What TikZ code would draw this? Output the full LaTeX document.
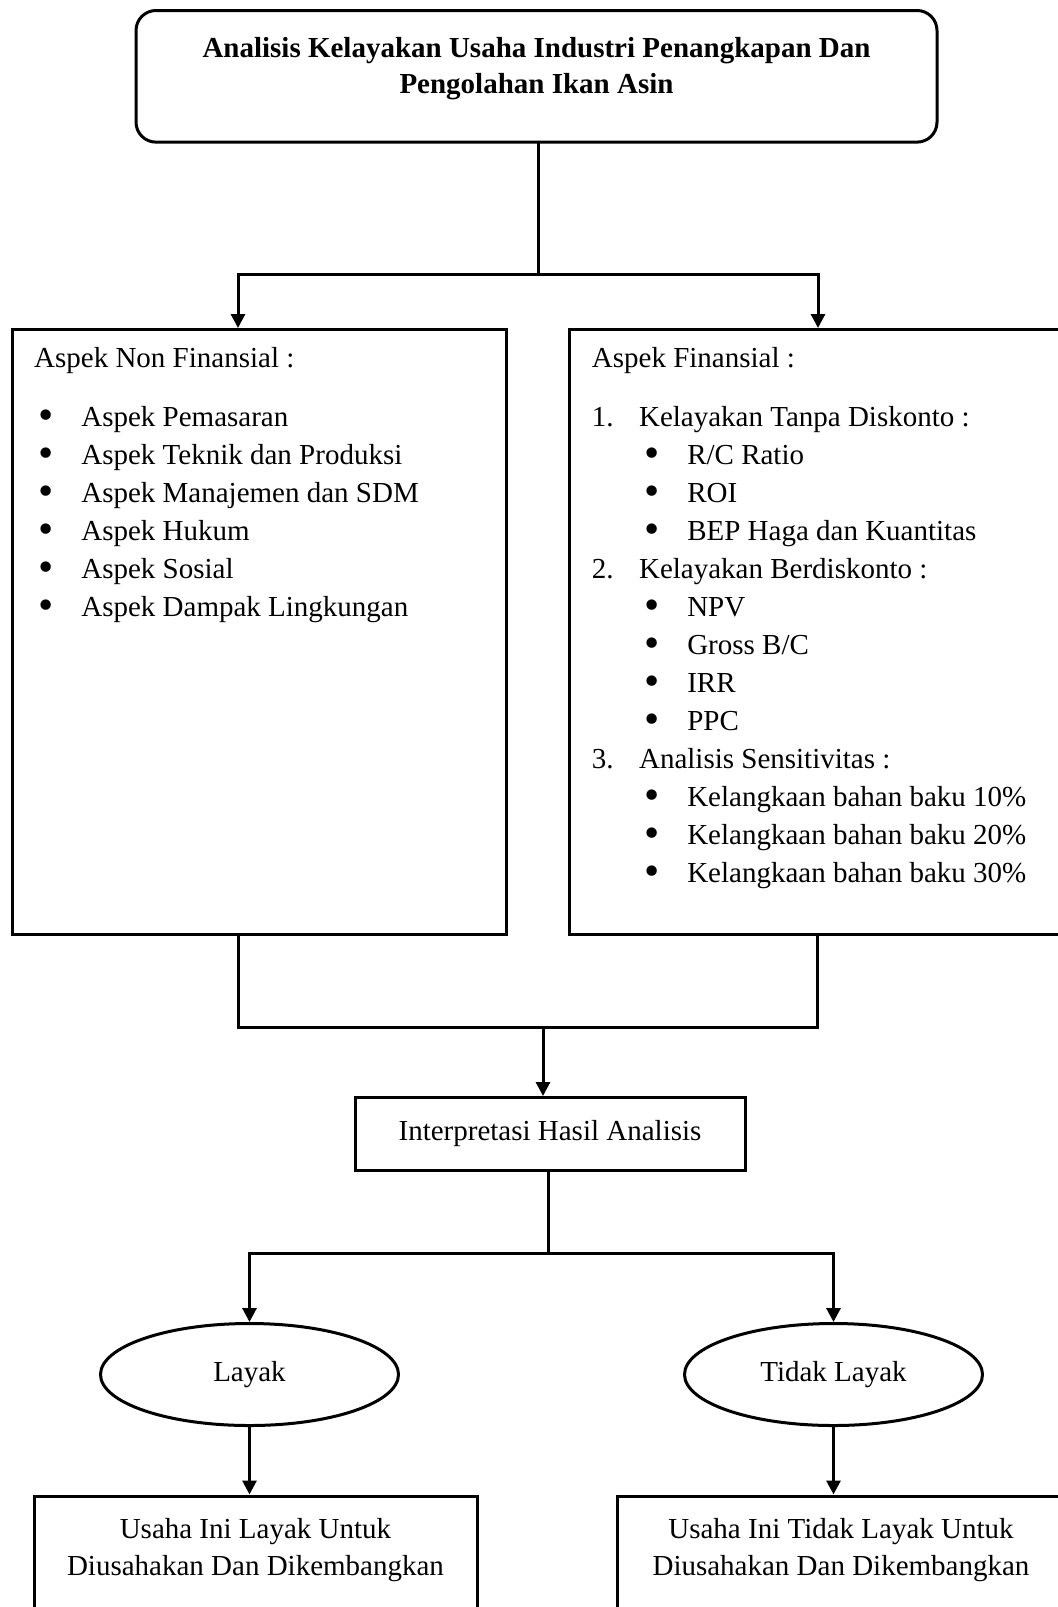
\documentclass[tikz,border=0pt]{standalone}
\usepackage{fontspec}
\setmainfont{Liberation Serif}
\usepackage{graphicx}
\usepackage{tikz}
\usetikzlibrary{positioning}
\usetikzlibrary{arrows.meta}
\usetikzlibrary{shapes.geometric}

\newcommand{\butir}{\raisebox{-0.12em}{\scalebox{1.5}{\textbullet}}}
\newcommand{\poin}[1]{\hspace*{2pt}\makebox[21.6pt][l]{\butir}#1}
\newcommand{\subpoin}[1]{\hspace*{26.2pt}\makebox[21.5pt][l]{\butir}#1}
\newcommand{\nomor}[2]{\makebox[23.6pt][l]{#1.}#2}

\begin{document}
\begin{tikzpicture}[x=0.5pt, y=-0.5pt,
  garis/.style={line width=1.5pt, line cap=rect},
  panah/.style={line width=1.5pt, -{Triangle[width=7pt,length=7pt]}},
  kotak/.style={draw, line width=1.5pt, align=center, font=\fontsize{14.5}{18.5}\selectfont},
  wadah/.style={draw, line width=1.5pt, anchor=north west, inner sep=0pt, minimum height=302.5pt},
  daftar/.style={align=left, inner sep=0pt, anchor=north west, font=\fontsize{14.5}{19}\selectfont},
  elips/.style={draw, ellipse, line width=1.5pt, minimum width=149pt, minimum height=51pt, font=\fontsize{14.5}{18}\selectfont}]
\useasboundingbox (0,0) rectangle (1058,1607);

\node[kotak, rounded corners=10pt, anchor=north, minimum width=400.5pt, inner ysep=13.5pt,
  font=\fontsize{14.5}{18}\selectfont\bfseries] (judul) at (536.5,9)
  {Analisis Kelayakan Usaha Industri Penangkapan Dan\\Pengolahan Ikan Asin\\[-7.25pt]\mbox{}};

\node[wadah, minimum width=247.25pt] (nonfin) at (10.5,328) {};
\node[wadah, minimum width=248.5pt] (fin) at (568,328) {};

\node[daftar] (nonfinisi) at (33.8,346.5) {Aspek Non Finansial :\\[10.5pt]
  \poin{Aspek Pemasaran}\\
  \poin{Aspek Teknik dan Produksi}\\
  \poin{Aspek Manajemen dan SDM}\\
  \poin{Aspek Hukum}\\
  \poin{Aspek Sosial}\\
  \poin{Aspek Dampak Lingkungan}};

\node[daftar] (finisi) at (591.5,346.5) {Aspek Finansial :\\[10.5pt]
  \nomor{1}{Kelayakan Tanpa Diskonto :}\\
  \subpoin{R/C Ratio}\\
  \subpoin{ROI}\\
  \subpoin{BEP Haga dan Kuantitas}\\
  \nomor{2}{Kelayakan Berdiskonto :}\\
  \subpoin{NPV}\\
  \subpoin{Gross B/C}\\
  \subpoin{IRR}\\
  \subpoin{PPC}\\
  \nomor{3}{Analisis Sensitivitas :}\\
  \subpoin{Kelangkaan bahan baku 10\%}\\
  \subpoin{Kelangkaan bahan baku 20\%}\\
  \subpoin{Kelangkaan bahan baku 30\%}};

\node[kotak, minimum width=195pt, minimum height=36.5pt] (interp) at (550,1134) {Interpretasi Hasil Analisis};

\node[elips] (layak) at (249.5,1374.5) {Layak};
\node[elips] (tdklayak) at (833.5,1374.5) {Tidak Layak};

\node[kotak, anchor=north, minimum width=221.5pt, inner ysep=11pt] (hasil1) at (255.5,1494.5)
  {Usaha Ini Layak Untuk\\Diusahakan Dan Dikembangkan\\[6pt]\mbox{}};
\node[kotak, anchor=north, minimum width=224pt, inner ysep=11pt] (hasil2) at (841,1494.5)
  {Usaha Ini Tidak Layak Untuk\\Diusahakan Dan Dikembangkan\\[6pt]\mbox{}};

\coordinate (c1) at (538,274);
\coordinate (c1a) at (238,274);
\coordinate (c1b) at (818,274);
\draw[garis] (judul.south -| c1) -- (c1);
\draw[panah] (c1) -- (c1a) -- (c1a |- nonfin.north);
\draw[panah] (c1) -- (c1b) -- (c1b |- fin.north);

\coordinate (c2) at (543,1027);
\coordinate (c2a) at (238,1027);
\coordinate (c2b) at (817,1027);
\draw[garis] (nonfin.south -| c2a) -- (c2a) -- (c2b) -- (fin.south -| c2b);
\draw[panah] (c2) -- (c2 |- interp.north);

\coordinate (c3) at (548,1253);
\coordinate (c3a) at (249.5,1253);
\coordinate (c3b) at (833.5,1253);
\draw[garis] (interp.south -| c3) -- (c3);
\draw[panah] (c3) -- (c3a) -- (layak.north);
\draw[panah] (c3) -- (c3b) -- (tdklayak.north);

\foreach \a/\b in {layak/hasil1, tdklayak/hasil2}
  \draw[panah] (\a.south) -- (\a.south |- \b.north);
\end{tikzpicture}
\end{document}
